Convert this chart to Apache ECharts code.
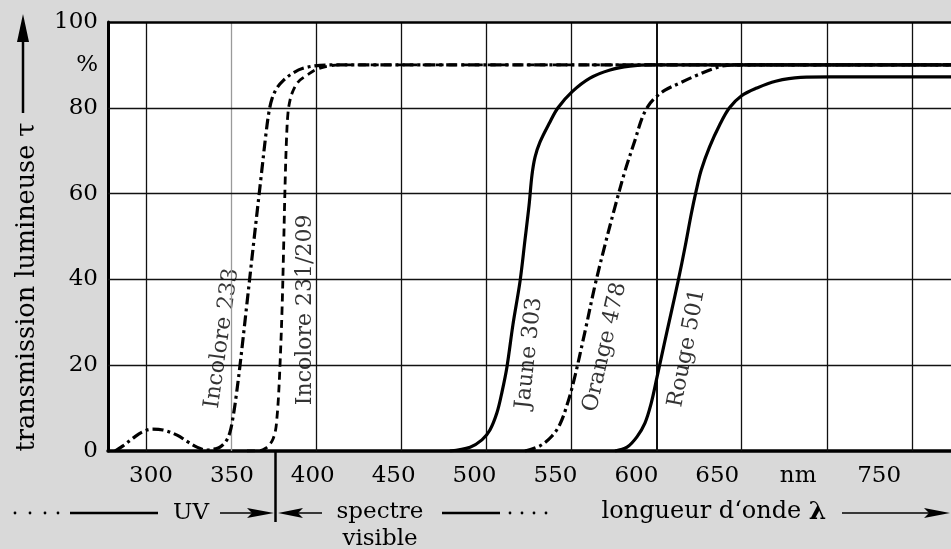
<!DOCTYPE html>
<html><head><meta charset="utf-8">
<script src="https://cdn.jsdelivr.net/npm/echarts@6/dist/echarts.min.js"></script>
<style>html,body{margin:0;padding:0;background:#d9d9d9}#c{width:951px;height:549px}</style>
</head><body><div id="c"></div>
<script>
// ---- data ----
const xTickValues = [300, 350, 400, 450, 500, 550, 600, 650, 700, 750];
const xTickLabels = ['300', '350', '400', '450', '500', '550', '600', '650', 'nm', '750'];
const yTickValues = [0, 20, 40, 60, 80, 90, 100];
const yTickLabels = ['0', '20', '40', '60', '80', '%', '100'];
const gridX = [300, 350, 400, 450, 500, 550, 600, 650, 700, 750];
const gridY = [20, 40, 60, 80];

const incolore233 = [[281.6,0],[286.3,1.2],[292.2,3.0],[297.5,4.4],[303.4,5.1],[309.8,4.9],[318.1,3.7],[324.5,2.1],[329.8,0.9],[335.7,0.2],[340.4,0.5],[343.3,0.9],[346.9,2.3],[349.2,4.4],[351.0,7.9],[352.7,12.4],[355.1,20.0],[359.2,34.5],[363.3,49.2],[367.4,63.6],[370.4,74.1],[372.1,79.0],[373.9,82.1],[376.8,84.6],[380.9,86.5],[386.2,88.1],[392.1,89.2],[402.1,89.9],[413.9,90],[773,90]];
const incolore231 = [[359.2,0],[366.8,0.1],[370.4,0.7],[372.7,1.6],[374.5,2.8],[376.0,4.9],[376.8,7.7],[377.6,11.9],[378.6,20.0],[379.8,32.9],[380.7,46.9],[381.5,60.8],[382.4,72.5],[383.3,78.8],[384.5,81.8],[386.2,83.9],[389.2,86.0],[394.5,87.6],[400.3,89.0],[408.0,89.8],[416.8,90],[773,90]];
const jaune303 = [[478.5,0],[490.3,0.9],[497.3,2.6],[502.0,4.9],[506.1,8.9],[509.1,13.8],[512.0,19.6],[515.5,29.4],[519.7,39.6],[522.6,49.2],[525.0,57.3],[526.7,64.3],[528.5,68.5],[531.4,72.0],[537.3,76.7],[542.0,80.0],[550.2,83.7],[560.8,86.9],[572.6,88.8],[584.3,89.7],[596.1,90],[773,90]];
const orange478 = [[522.6,0],[531.4,1.2],[538.5,3.5],[543.2,6.3],[547.3,10.7],[551.4,16.5],[557.9,27.9],[563.8,38.7],[569.6,48.0],[575.5,56.9],[581.4,65.3],[587.3,72.5],[591.4,77.6],[595.0,80.4],[599.0,82.3],[604.9,84.1],[613.7,85.8],[623.7,87.6],[632.5,89.0],[641.4,89.9],[652,90],[773,90]];
const rouge501 = [[575.5,0],[582.6,0.9],[588.4,3.3],[593.1,6.5],[596.7,11.0],[600.2,17.2],[604.3,24.7],[608.5,32.2],[612.6,39.6],[616.7,47.6],[620.3,55.2],[623.3,60.8],[626.2,65.5],[631.1,70.9],[637.0,76.0],[642.8,80.0],[649.9,82.8],[658.8,84.6],[669.9,86.2],[684.6,87.1],[702.2,87.2],[773,87.2]];
const curveNames = ['Incolore 233', 'Incolore 231/209', 'Jaune 303', 'Orange 478', 'Rouge 501'];

// ---- presentation ----
const FONT = '"DejaVu Serif", serif';
const dashDot = [11, 4, 3, 4];
const curveLabelPlacement = [
  { x: 344.5, y: 26.3, r: 82 },
  { x: 393.3, y: 32.9, r: 90 },
  { x: 525, y: 22.8, r: 84 },
  { x: 569.6, y: 24.2, r: 77 },
  { x: 617.8, y: 24.0, r: 79 }
];

function curve(name, data, type, width) {
  return {
    type: 'line', name: name, data: data, xAxisIndex: 0, yAxisIndex: 0,
    symbol: 'none', showSymbol: false, smooth: 0.35,
    lineStyle: { color: '#000', width: width, type: type, cap: 'butt', join: 'round' },
    z: 5, silent: true, animation: false
  };
}

const chart = echarts.init(document.getElementById('c'), null, { renderer: 'canvas' });
const gridLineData = gridX.map(v => ({
  xAxis: v,
  lineStyle: { color: v === 350 ? '#9a9a9a' : '#111', width: v === 600 ? 2 : 1.3, type: 'solid' }
})).concat(gridY.map(v => ({ yAxis: v, lineStyle: { color: '#111', width: 1.3, type: 'solid' } })))
  .concat([{ yAxis: 100, lineStyle: { color: '#000', width: 2.5, type: 'solid' } }]);

const option = {
  backgroundColor: '#d9d9d9',
  animation: false,
  grid: { left: 108, right: 0, top: 22, bottom: 98, containLabel: false, outerBoundsMode: 'none',
          show: true, backgroundColor: '#fff', borderWidth: 0 },
  xAxis: [
    { type: 'value', min: 277.5, max: 773, position: 'bottom',
      axisLine: { show: true, onZero: false, lineStyle: { color: '#000', width: 3.5 } },
      axisTick: { show: false }, axisLabel: { show: false }, splitLine: { show: false } },
    { type: 'value', min: 273.46, max: 794.45, position: 'bottom',
      axisLine: { show: false }, axisTick: { show: false }, splitLine: { show: false },
      axisLabel: { show: true, customValues: xTickValues, margin: 14,
        formatter: v => xTickLabels[xTickValues.indexOf(v)] || '',
        color: '#000', fontFamily: FONT, fontSize: 23 } }
  ],
  yAxis: {
    type: 'value', min: 0, max: 100,
    axisLine: { show: true, onZero: false, lineStyle: { color: '#000', width: 3 } },
    axisTick: { show: false }, splitLine: { show: false },
    axisLabel: { show: true, customValues: yTickValues, margin: 10,
      formatter: v => yTickLabels[yTickValues.indexOf(v)] || '',
      color: '#000', fontFamily: FONT, fontSize: 23 }
  },
  series: [
    { type: 'line', data: [], xAxisIndex: 0, z: 1, silent: true,
      markLine: { silent: true, symbol: ['none', 'none'], label: { show: false }, animation: false,
        data: gridLineData } },
    { type: 'scatter', xAxisIndex: 0, z: 3, silent: true, symbolSize: 1,
      itemStyle: { color: 'rgba(0,0,0,0)' },
      data: curveNames.map((n, i) => ({ name: n, value: [curveLabelPlacement[i].x, curveLabelPlacement[i].y],
        label: { rotate: curveLabelPlacement[i].r } })),
      label: { show: true, position: 'inside', formatter: '{b}', color: '#000', fontFamily: FONT, fontSize: 22,
        backgroundColor: '#fff', padding: [0, 4] } },
    curve(curveNames[0], incolore233, dashDot, 3.2),
    curve(curveNames[1], incolore231, [8, 5], 2.8),
    curve(curveNames[2], jaune303, 'solid', 3.2),
    curve(curveNames[3], orange478, dashDot, 3.2),
    curve(curveNames[4], rouge501, 'solid', 3.2)
  ],
  graphic: [
    // y-axis title and arrow
    { type: 'text', x: 27, y: 287, rotation: Math.PI / 2,
      style: { text: 'transmission lumineuse τ', font: '25.5px ' + FONT, fill: '#000', align: 'center', verticalAlign: 'middle' } },
    { type: 'line', shape: { x1: 23, y1: 113, x2: 23, y2: 36 }, style: { stroke: '#000', lineWidth: 2.5 } },
    { type: 'polygon', shape: { points: [[17, 42], [23, 14], [29, 42]] }, style: { fill: '#000' } },
    // bottom annotations: UV
    { type: 'circle', shape: { cx: 15, cy: 513, r: 1.4 }, style: { fill: '#000' } },
    { type: 'circle', shape: { cx: 30, cy: 513, r: 1.4 }, style: { fill: '#000' } },
    { type: 'circle', shape: { cx: 45, cy: 513, r: 1.4 }, style: { fill: '#000' } },
    { type: 'circle', shape: { cx: 58, cy: 513, r: 1.4 }, style: { fill: '#000' } },
    { type: 'line', shape: { x1: 70, y1: 513, x2: 158, y2: 513 }, style: { stroke: '#000', lineWidth: 2.5 } },
    { type: 'text', style: { text: 'UV', x: 191, y: 513, font: '23px ' + FONT, fill: '#000', align: 'center', verticalAlign: 'middle' } },
    { type: 'line', shape: { x1: 220, y1: 513, x2: 252, y2: 513 }, style: { stroke: '#000', lineWidth: 1.5 } },
    { type: 'polygon', shape: { points: [[247, 508], [274, 513], [247, 518], [252, 513]] }, style: { fill: '#000' } },
    { type: 'line', shape: { x1: 275.5, y1: 451, x2: 275.5, y2: 522 }, style: { stroke: '#000', lineWidth: 2.5 } },
    // spectre visible
    { type: 'polygon', shape: { points: [[278, 513], [303, 508], [298, 513], [303, 518]] }, style: { fill: '#000' } },
    { type: 'line', shape: { x1: 298, y1: 513, x2: 322, y2: 513 }, style: { stroke: '#000', lineWidth: 1.5 } },
    { type: 'text', style: { text: 'spectre', x: 380, y: 512, font: '23px ' + FONT, fill: '#000', align: 'center', verticalAlign: 'middle' } },
    { type: 'text', style: { text: 'visible', x: 380, y: 539, font: '23px ' + FONT, fill: '#000', align: 'center', verticalAlign: 'middle' } },
    { type: 'line', shape: { x1: 442, y1: 513, x2: 500, y2: 513 }, style: { stroke: '#000', lineWidth: 2.5 } },
    { type: 'circle', shape: { cx: 510, cy: 513, r: 1.4 }, style: { fill: '#000' } },
    { type: 'circle', shape: { cx: 522, cy: 513, r: 1.4 }, style: { fill: '#000' } },
    { type: 'circle', shape: { cx: 534, cy: 513, r: 1.4 }, style: { fill: '#000' } },
    { type: 'circle', shape: { cx: 546, cy: 513, r: 1.4 }, style: { fill: '#000' } },
    // longueur d'onde
    { type: 'text', style: { text: 'longueur d‘onde {l|λ}', x: 714, y: 512, font: '24px ' + FONT, fill: '#000', align: 'center', verticalAlign: 'middle',
      rich: { l: { font: 'bold 25px ' + FONT, fill: '#000' } } } },
    { type: 'line', shape: { x1: 842, y1: 513, x2: 935, y2: 513 }, style: { stroke: '#000', lineWidth: 1.5 } },
    { type: 'polygon', shape: { points: [[924, 508], [950, 513], [924, 518], [929, 513]] }, style: { fill: '#000' } }
  ]
};
chart.setOption(option);
</script>
</body></html>
